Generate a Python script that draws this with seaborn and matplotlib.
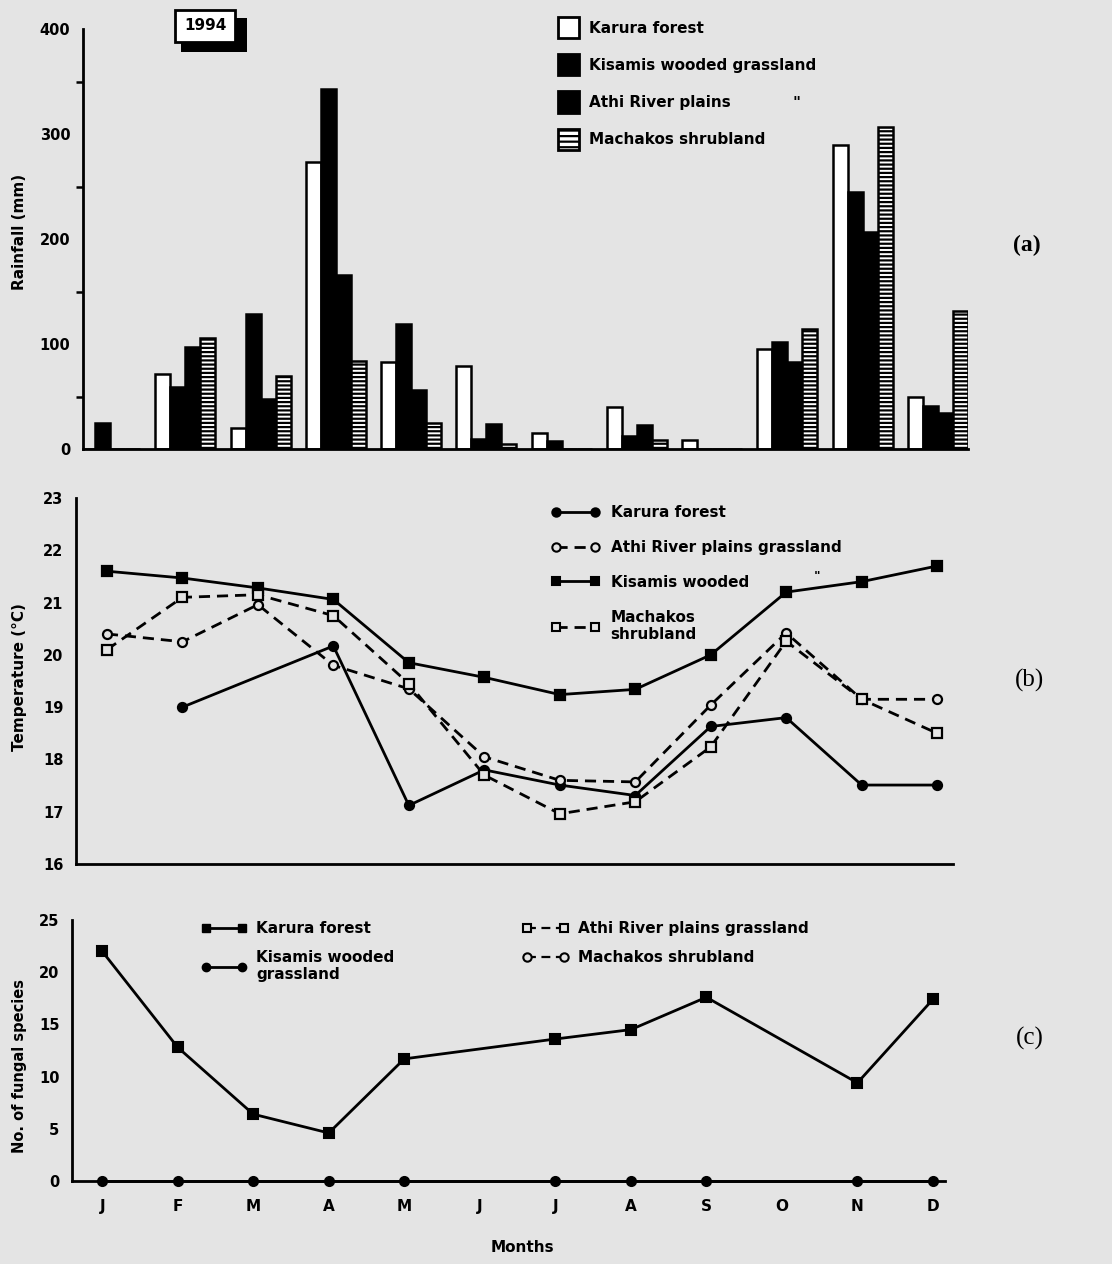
import numpy as np
import pandas as pd
import matplotlib
matplotlib.use("Agg")
import matplotlib.pyplot as plt
import seaborn as sns
from matplotlib.patches import Patch, Rectangle
from matplotlib.lines import Line2D

# ---------------- data ----------------
months = ["J", "F", "M", "A", "M", "J", "J", "A", "S", "O", "N", "D"]

rain_sites = ["Karura forest", "Kisamis wooded grassland", "Athi River plains", "Machakos shrubland"]
rain_karura = [0, 71, 20, 273, 83, 79, 15, 40, 9, 95, 290, 50]
rain_kisamis = [25, 59, 129, 343, 119, 10, 8, 12, 0, 102, 245, 41]
rain_athi = [0, 97, 48, 166, 56, 24, 0, 23, 0, 83, 207, 34]
rain_machakos = [0, 106, 70, 84, 25, 5, 0, 9, 0, 114, 307, 131]

temp_sites = ["Karura forest", "Athi River plains grassland", "Kisamis wooded", "Machakos\nshrubland"]
temp_karura = [np.nan, 19.0, np.nan, 20.17, 17.12, 17.8, 17.51, 17.31, 18.63, 18.8, 17.51, 17.51]
temp_athi = [20.4, 20.25, 20.96, 19.8, 19.35, 18.05, 17.6, 17.57, 19.04, 20.42, 19.15, 19.15]
temp_kisamis = [21.6, 21.47, 21.28, 21.06, 19.85, 19.57, 19.24, 19.34, 20.0, 21.2, 21.4, 21.7]
temp_machakos = [20.1, 21.1, 21.15, 20.75, 19.45, 17.7, 16.96, 17.19, 18.24, 20.26, 19.15, 18.5]

fung_sites = ["Karura forest", "Kisamis wooded\ngrassland", "Athi River plains grassland", "Machakos shrubland"]
fung_karura = [22.0, 12.8, 6.4, 4.6, 11.7, np.nan, 13.6, 14.5, 17.6, np.nan, 9.4, 17.4]
fung_kisamis = [0, 0, 0, 0, 0, np.nan, 0, 0, 0, np.nan, 0, 0]

# ---------------- style ----------------
BG = "#e4e4e4"
sns.set_theme(style="white")
plt.rcParams["font.family"] = ["DejaVu Sans"]
plt.rcParams["hatch.linewidth"] = 1.6
plt.rcParams["hatch.color"] = "black"
for k in ["text.color", "axes.labelcolor", "xtick.color", "ytick.color"]:
    plt.rcParams[k] = "black"

W, H = 1112, 1264
fig = plt.figure(figsize=(W / 100, H / 100), dpi=100)
fig.patch.set_facecolor(BG)


def fx(px):
    return px / W


def fy(py):
    return 1 - py / H


def axes_px(left, top, right, bottom):
    ax = fig.add_axes([fx(left), fy(bottom), (right - left) / W, (bottom - top) / H])
    ax.set_facecolor("none")
    for s in ["top", "right"]:
        ax.spines[s].set_visible(False)
    for s in ["left", "bottom"]:
        ax.spines[s].set_linewidth(2)
        ax.spines[s].set_color("black")
    ax.tick_params(axis="both", direction="out", length=7, width=1.8, color="black",
                   labelsize=10.5, pad=2, labelcolor="black")
    return ax


idx = list(range(len(months)))

# ---------------- panel (a): rainfall bars ----------------
axa = axes_px(83, 29, 968, 449)
rain_vals = [rain_karura, rain_kisamis, rain_athi, rain_machakos]
df_a = pd.DataFrame({
    "month": np.tile(idx, len(rain_sites)),
    "site": np.repeat(rain_sites, len(months)),
    "rain": np.concatenate(rain_vals),
})
pal_a = {rain_sites[0]: "white", rain_sites[1]: "black", rain_sites[2]: "black", rain_sites[3]: "white"}
sns.barplot(data=df_a, x="month", y="rain", hue="site", hue_order=rain_sites, palette=pal_a,
            saturation=1, width=0.8, edgecolor="black", linewidth=1.8, legend=False, ax=axa)
for bar in axa.containers[3]:
    bar.set_hatch("----")
axa.set_xlim(-0.36, 11.4)
axa.set_ylim(0, 400)
axa.set_yticks([0, 100, 200, 300, 400])
axa.set_yticklabels(["0", "100", "200", "300", "400"], fontweight="bold", fontsize=10.5)
axa.set_yticks(np.arange(50, 400, 100), minor=True)
axa.tick_params(axis="y", which="minor", direction="out", length=5, width=1.8, left=True)
axa.set_xticks(idx)
axa.set_xticklabels([""] * 12)
axa.tick_params(axis="x", length=9)
axa.set_xlabel("")
axa.set_ylabel("")

axa.legend(
    handles=[Patch(facecolor="white", edgecolor="black", linewidth=2),
             Patch(facecolor="black", edgecolor="black", linewidth=2),
             Patch(facecolor="black", edgecolor="black", linewidth=2),
             Patch(facecolor="white", edgecolor="black", linewidth=2, hatch="---")],
    labels=rain_sites, loc="upper left", bbox_to_anchor=(fx(552), fy(11)),
    bbox_transform=fig.transFigure, frameon=False, handlelength=1.35, handleheight=1.75,
    labelspacing=1.05, handletextpad=0.65, borderaxespad=0,
    prop={"weight": "bold", "size": 11})
fig.text(fx(797), fy(104), '"', fontsize=11, fontweight="bold", ha="center", va="center")

# 1994 box with shadow
fig.add_artist(Rectangle((fx(181), fy(52)), 66 / W, 34 / H, transform=fig.transFigure,
                         facecolor="black", edgecolor="black", lw=0, zorder=5))
fig.add_artist(Rectangle((fx(175), fy(42)), 60 / W, 32 / H, transform=fig.transFigure,
                         facecolor="white", edgecolor="black", lw=2, zorder=6))
fig.text(fx(205), fy(26), "1994", ha="center", va="center", fontsize=11, fontweight="bold",
         color="black", zorder=7)

# ---------------- panel (b): temperature lines ----------------
axb = axes_px(76, 498, 953, 864)
temp_vals = [temp_karura, temp_athi, temp_kisamis, temp_machakos]
temp_styles = [
    dict(marker="o", ls="-", mfc="black"),
    dict(marker="o", ls=(0, (4, 2.5)), mfc=BG),
    dict(marker="s", ls="-", mfc="black"),
    dict(marker="s", ls=(0, (4, 2.5)), mfc=BG),
]
for vals, st in zip(temp_vals, temp_styles):
    d = pd.DataFrame({"month": idx, "temp": vals}).dropna()
    sns.lineplot(data=d, x="month", y="temp", ax=axb, color="black", linewidth=2,
                 linestyle=st["ls"], marker=st["marker"], markersize=6.5,
                 markerfacecolor=st["mfc"], markeredgecolor="black", markeredgewidth=1.6,
                 legend=False, zorder=3)
axb.set_xlim(-0.41, 11.21)
axb.set_ylim(16, 23)
axb.set_yticks(range(16, 24))
axb.set_yticklabels([str(v) for v in range(16, 24)], fontweight="bold", fontsize=10.5)
axb.set_xticks(idx)
axb.set_xticklabels([""] * 12)
axb.set_xlabel("")
axb.set_ylabel("")

hb = []
for st in temp_styles:
    hb.append(Line2D([0], [0], color="black", lw=2, ls=st["ls"], marker=st["marker"],
                     markersize=6, markerfacecolor=st["mfc"], markeredgecolor="black",
                     markeredgewidth=1.5))
axb.legend(handles=hb, labels=temp_sites, loc="upper left", bbox_to_anchor=(fx(545), fy(499)),
           bbox_transform=fig.transFigure, frameon=False, numpoints=2, handlelength=3.2,
           labelspacing=1.3, handletextpad=0.7, borderaxespad=0,
           prop={"weight": "bold", "size": 11})
fig.text(fx(817), fy(576), '"', fontsize=9, fontweight="bold", ha="center", va="center")

# ---------------- panel (c): fungal species ----------------
axc = axes_px(72, 920, 945, 1181)
fung_vals = [fung_karura, fung_kisamis]
fung_styles = [dict(marker="s", mfc="black"), dict(marker="o", mfc="black")]
for vals, st in zip(fung_vals, fung_styles):
    d = pd.DataFrame({"month": idx, "n": vals}).dropna()
    sns.lineplot(data=d, x="month", y="n", ax=axc, color="black", linewidth=2,
                 marker=st["marker"], markersize=6.5, markerfacecolor=st["mfc"],
                 markeredgecolor="black", markeredgewidth=1.5, legend=False,
                 clip_on=False, zorder=3)
axc.set_xlim(-0.40, 11.16)
axc.set_ylim(0, 25)
axc.set_yticks(range(0, 26, 5))
axc.set_yticklabels([str(v) for v in range(0, 26, 5)], fontweight="bold", fontsize=10.5)
axc.set_xticks(idx)
axc.set_xticklabels(months, fontweight="bold", fontsize=11)
axc.tick_params(axis="x", pad=6)
axc.set_xlabel("")
axc.set_ylabel("")

hc = [
    Line2D([0], [0], color="black", lw=2, marker="s", ms=6, mfc="black", mec="black"),
    Line2D([0], [0], color="black", lw=2, marker="o", ms=6, mfc="black", mec="black"),
    Line2D([0], [0], color="black", lw=1.6, ls=(0, (4, 2.5)), marker="s", ms=6, mfc=BG, mec="black", mew=1.5),
    Line2D([0], [0], color="black", lw=1.6, ls=(0, (4, 2.5)), marker="o", ms=6, mfc=BG, mec="black", mew=1.5),
]
axc.legend(handles=hc, labels=fung_sites, ncol=2, loc="upper left",
           bbox_to_anchor=(fx(195), fy(915)), bbox_transform=fig.transFigure, frameon=False,
           numpoints=2, handlelength=3.0, labelspacing=0.9, handletextpad=0.6,
           columnspacing=8.4, borderaxespad=0, prop={"weight": "bold", "size": 11})

# ---------------- labels ----------------
fig.text(fx(20), fy(232), "Rainfall (mm)", rotation=90, ha="center", va="center",
         fontsize=11, fontweight="bold")
fig.text(fx(20), fy(677), "Temperature (°C)", rotation=90, ha="center", va="center",
         fontsize=11, fontweight="bold")
fig.text(fx(20), fy(1066), "No. of fungal species", rotation=90, ha="center", va="center",
         fontsize=10.5, fontweight="bold")
fig.text(fx(522), fy(1247), "Months", ha="center", va="center", fontsize=11, fontweight="bold")

fig.text(fx(1027), fy(245), "(a)", ha="center", va="center", fontsize=17, fontweight="bold",
         family=["Liberation Serif", "DejaVu Serif"])
fig.text(fx(1030), fy(680), "(b)", ha="center", va="center", fontsize=18,
         family=["Liberation Serif", "DejaVu Serif"])
fig.text(fx(1030), fy(1038), "(c)", ha="center", va="center", fontsize=18,
         family=["Liberation Serif", "DejaVu Serif"])

fig.savefig("out.png", dpi=100, facecolor=BG)
